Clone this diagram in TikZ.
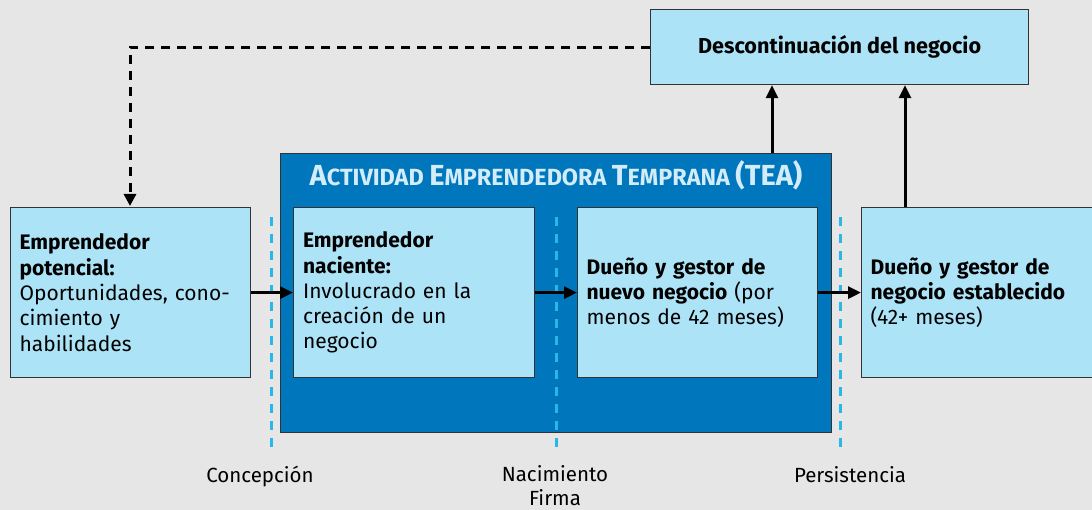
\documentclass[tikz,border=0pt]{standalone}
\usepackage{fontspec}
\setmainfont{Fira Sans}
\usetikzlibrary{arrows.meta,calc}
\definecolor{bgc}{HTML}{E6E6E6}
\definecolor{lightb}{HTML}{ADE3F6}
\definecolor{darkb}{HTML}{0077BD}
\definecolor{boxline}{HTML}{333333}
\definecolor{phasec}{HTML}{29B6E8}
\definecolor{titlec}{HTML}{D2EDF9}
\tikzset{
  lbox/.style={draw=boxline, fill=lightb, line width=1.2pt, minimum width=240pt,
    minimum height=170pt, text width=222pt, inner xsep=9pt, inner ysep=0pt, align=left,
    font=\fontsize{21}{25.3}\selectfont, anchor=north west},
  arr/.style={line width=3pt, -{Triangle[length=13pt,width=12pt]}},
  dashline/.style={line width=3pt, dash pattern=on 9pt off 7pt, -{Triangle[length=12pt,width=12pt]}},
  phase/.style={phasec, line width=3pt, dash pattern=on 9pt off 8pt},
  lbl/.style={font=\fontsize{20.5}{24}\selectfont, align=center, inner sep=0pt},
}
\newcommand{\bigc}[1]{{\fontsize{29}{29}\selectfont #1}}
\begin{document}
\begin{tikzpicture}[x=1pt,y=-1pt]
\fill[bgc] (0,0) rectangle (1092,510);
\useasboundingbox (0,0) rectangle (1092,510);

% TEA container
\node[draw=boxline, fill=darkb, line width=1.2pt, minimum width=551pt, minimum height=279pt,
  anchor=north west, inner sep=0pt] (tea) at (280,153) {};
\node[text=titlec, font=\fontsize{23.4}{23.4}\selectfont\bfseries, anchor=base] (teatitle) at (556,186)
  {\bigc{A}CTIVIDAD \bigc{E}MPRENDEDORA \bigc{T}EMPRANA \bigc{(TEA)}};

% phase lines
\draw[phase] (271,217) -- (271,447);
\draw[phase] (556,217) -- (556,447);
\draw[phase] (840,217) -- (840,447);

% boxes
\node[lbox] (pot) at (10,207) {\textbf{Emprendedor\\potencial:}\\Oportunidades, cono-\\cimiento y\\habilidades};
\node[lbox, minimum width=241pt] (nac) at (293,207) {\textbf{Emprendedor\\naciente:}\\Involucrado en la\\creación de un\\negocio};
\node[lbox] (nuevo) at (577,207) {\textbf{Dueño y gestor de\\nuevo negocio} (por\\menos de 42 meses)};
\node[lbox] (estab) at (861,207) {\textbf{Dueño y gestor de\\negocio establecido}\\(42+ meses)};

\node[draw=boxline, fill=lightb, line width=1.2pt, minimum width=378pt, minimum height=75pt,
  anchor=north west, inner sep=0pt, font=\fontsize{21.6}{25}\selectfont\bfseries] (desc) at (650,9)
  {Descontinuación del negocio};

% connectors
\draw[arr] (pot.east) -- (nac.west);
\draw[arr] (nac.east) -- (nuevo.west);
\draw[arr] (nuevo.east) -- (estab.west);

\coordinate (u1) at (772,0);
\coordinate (u2) at (905,0);
\draw[arr] (tea.north -| u1) -- (desc.south -| u1);
\draw[arr] (estab.north -| u2) -- (desc.south -| u2);

\coordinate (dc) at (130,0);
\draw[dashline] (desc.west) -- (desc.west -| dc) -- ($(pot.north -| dc)+(0,-1)$);

% phase labels
\node[lbl, anchor=base] (conc) at (260,482) {Concepción};
\node[lbl, anchor=base] (nacim) at (555,481) {Nacimiento};
\node[lbl, anchor=base] (firma) at (555,505) {Firma};
\node[lbl, anchor=base] (pers) at (850,482) {Persistencia};
\end{tikzpicture}
\end{document}
